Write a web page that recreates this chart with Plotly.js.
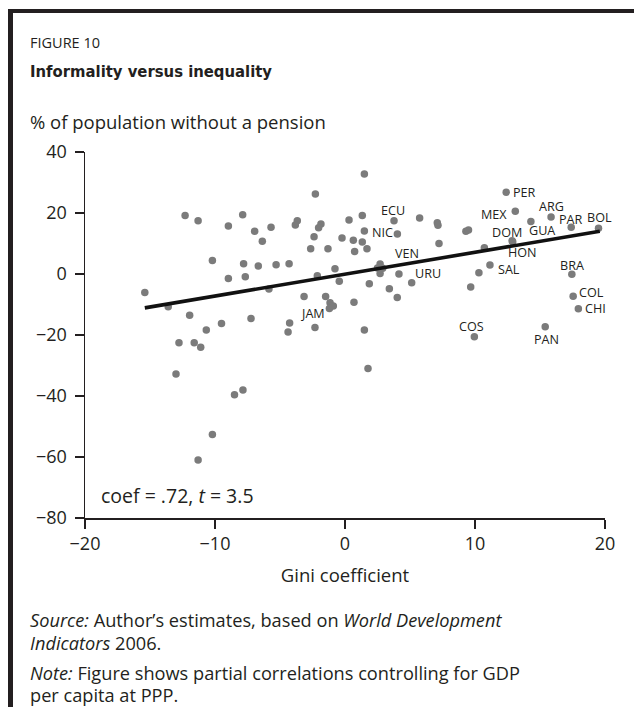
<!DOCTYPE html>
<html>
<head>
<meta charset="utf-8">
<script src="https://cdn.plot.ly/plotly-3.0.1.min.js"></script>
<style>
  html, body { margin: 0; padding: 0; background: #fff; }
  #wrap { position: relative; width: 634px; height: 707px; }
  #frame { position: absolute; left: 8px; top: 9px; width: 626px; height: 698px;
           border-left: 5px solid #231f20; border-top: 4.5px solid #231f20; box-sizing: border-box; pointer-events: none; }
  #chart { position: absolute; left: 0; top: 0; width: 634px; height: 707px; }
</style>
</head>
<body>
<div id="wrap">
  <div id="chart"></div>
  <div id="frame"></div>
</div>
<script>
// ---- data ----
const otherX = [-12.3, -11.3, -8.97, -7.87, -6.95, -5.69, -6.36, -10.2, -7.8, -6.67, -5.3, -8.97, -7.67, -5.85,
  -15.4, -13.6, -11.95, -9.5, -7.23, -10.67, -12.77, -11.6, -11.1, -13.0, -8.5, -7.85, -10.2, -11.3,
  1.49, -2.28, 0.31, 1.33, 5.74, 7.1, 7.15, -3.67, -3.82, -1.85, -2.03, 4.03, -2.38, -0.23, 0.64, 1.33,
  7.23, -2.64, -1.31, 0.74, 1.69, -4.3, -0.77, -2.13, 2.5, 2.9, 2.7, 5.13, -0.44, 1.87, 3.41, 4.02,
  -3.15, -1.49, -1.15, -0.9, 0.69, -4.26, -4.38, -2.31, 1.49, 1.77,
  10.72, 9.3, 9.5, 10.3, 9.67];
const otherY = [19.2, 17.5, 15.7, 19.4, 14.0, 15.3, 10.7, 4.4, 3.4, 2.6, 3.05, -1.5, -0.9, -4.9,
  -6.1, -10.7, -13.5, -16.2, -14.6, -18.4, -22.5, -22.5, -24.0, -32.8, -39.6, -38.0, -52.6, -61.0,
  32.8, 26.2, 17.7, 19.2, 18.4, 16.8, 16.0, 17.5, 16.1, 16.4, 15.2, 13.1, 12.2, 11.8, 11.1, 10.5,
  10.0, 8.3, 8.3, 7.4, 8.3, 3.4, 1.75, -0.55, 2.0, 1.9, 0.2, -2.85, -2.4, -3.2, -4.8, -7.7,
  -7.4, -7.4, -9.4, -10.5, -9.3, -16.1, -19.0, -17.5, -18.4, -31.0,
  8.6, 14.0, 14.4, 0.4, -4.3];

const labCodes = ["PER", "MEX", "ARG", "GUA", "PAR", "BOL", "DOM", "HON", "SAL", "BRA", "COL", "CHI", "PAN", "COS",
  "ECU", "NIC", "VEN", "URU", "JAM"];
const labX = [12.4, 13.1, 15.85, 14.3, 17.4, 19.5, 12.85, 12.9, 11.15, 17.45, 17.55, 17.95, 15.4, 9.95,
  3.77, 1.49, 2.7, 4.15, -1.2];
const labY = [26.8, 20.6, 18.7, 17.2, 15.3, 15.0, 10.9, 10.6, 2.95, -0.1, -7.3, -11.4, -17.3, -20.6,
  17.5, 14.1, 3.3, 0.0, -11.3];

const fitX = [-15.4, 19.6];
const fitY = [-11.1, 14.0];

const xTicks = [-20, -10, 0, 10, 20];
const yTicks = [-80, -60, -40, -20, 0, 20, 40];

// ---- label placement styles (anchor, pixel shifts) ----
const labAnchor = ["left", "right", "center", "left", "center", "center", "center", "center", "left", "center",
  "left", "left", "center", "center", "center", "left", "center", "left", "center"];
const labDx = [6, -7, 0, -3, 0, 1, -5, 10, 7, 0, 5, 6, 1, -3, -1, 6.5, 27, 15, -17];
const labDy = [0, -3, 10, -9, 8, 10.5, 8, -11, -4.5, 8.5, 3.5, 0, -12.5, 10, 9.7, -1.3, 10.7, 0.3, -5];

const INK = "#231f20";
const DOT = "#7b7b7b";
const FONT = "'Open Sans', 'Noto Sans', sans-serif";
const NARROW = "'Liberation Sans Narrow', 'DejaVu Sans Condensed', 'Liberation Sans', sans-serif";

const traces = [
  { x: otherX, y: otherY, type: "scatter", mode: "markers",
    marker: { color: DOT, size: 7.5 }, hoverinfo: "skip", showlegend: false, cliponaxis: false },
  { x: labX, y: labY, type: "scatter", mode: "markers",
    marker: { color: DOT, size: 7.5 }, hoverinfo: "skip", showlegend: false, cliponaxis: false },
  { x: fitX, y: fitY, type: "scatter", mode: "lines",
    line: { color: "#111", width: 3.6 }, hoverinfo: "skip", showlegend: false }
];

// px->paper helpers for text placement (plot area 85..605 x, 152..518 y)
const PX = px => (px - 85) / 520;
const PY = py => (518 - py) / 366;

function note(text, px, py, size, opts) {
  return Object.assign({ text: text, xref: "paper", yref: "paper", x: PX(px), y: PY(py),
    xanchor: "left", yanchor: "middle", showarrow: false, align: "left", borderpad: 0,
    font: { family: FONT, size: size, color: INK } }, opts || {});
}

const pointLabels = labCodes.map((c, i) => ({
  text: c, x: labX[i], y: labY[i], xref: "x", yref: "y", showarrow: false,
  xanchor: labAnchor[i], yanchor: "middle", xshift: labDx[i], yshift: labDy[i],
  borderpad: 0, font: { family: FONT, size: 12.6, color: INK }
}));

const layout = {
  width: 634, height: 707,
  margin: { l: 85, r: 29, t: 152, b: 189, pad: 0 },
  paper_bgcolor: "#fff", plot_bgcolor: "#fff",
  font: { family: FONT, color: INK },
  xaxis: {
    range: [-20, 20], tickmode: "array", tickvals: xTicks,
    showgrid: false, zeroline: false, showline: true, linecolor: INK, linewidth: 1.5,
    ticks: "outside", ticklen: 9, tickwidth: 1.5, tickcolor: INK,
    tickfont: { family: FONT, size: 18, color: INK },
    title: { text: "Gini coefficient", font: { family: FONT, size: 18.5, color: INK }, standoff: 15 }
  },
  yaxis: {
    range: [-80, 40], tickmode: "array", tickvals: yTicks,
    showgrid: false, zeroline: false, showline: true, linecolor: INK, linewidth: 1.5,
    ticks: "outside", ticklen: 9, tickwidth: 1.5, tickcolor: INK, ticklabelstandoff: 4,
    tickfont: { family: FONT, size: 18, color: INK }
  },
  annotations: [
    note("FIGURE 10", 29, 42, 14.5),
    note("<b>Informality versus inequality</b>", 29, 72, 16.5, { font: { family: NARROW, size: 16.5, color: INK } }),
    note("% of population without a pension", 29, 122, 18.5),
    note("coef = .72, <i>t</i> = 3.5", 100, 495, 19.5),
    note("<i>Source:</i> Author’s estimates, based on <i>World Development</i>", 29, 620, 18.2),
    note("<i>Indicators</i> 2006.", 29, 643, 18.2),
    note("<i>Note:</i> Figure shows partial correlations controlling for GDP", 29, 673, 18.2),
    note("per capita at PPP.", 29, 695, 18.2)
  ].concat(pointLabels)
};

Plotly.newPlot("chart", traces, layout, { staticPlot: true, displayModeBar: false });
</script>
</body>
</html>
